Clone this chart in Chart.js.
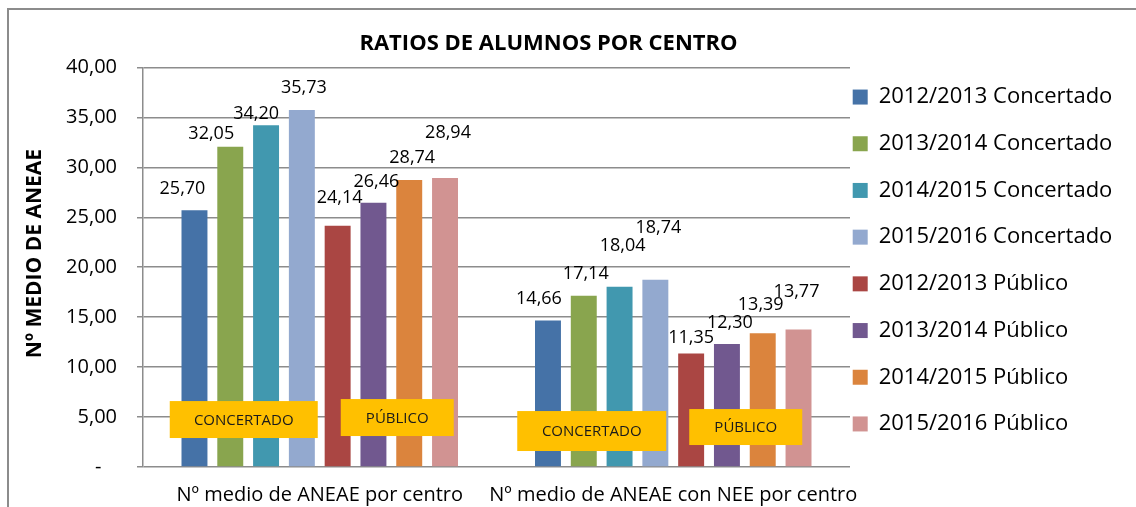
<!DOCTYPE html>
<html>
<head>
<meta charset="utf-8">
<script src="https://cdn.jsdelivr.net/npm/chart.js@4.4.1/dist/chart.umd.min.js"></script>
<style>
  html, body { margin: 0; padding: 0; background: #fff; }
  #wrap { width: 1136px; height: 507px; position: relative; }
</style>
</head>
<body>
<div id="wrap"><canvas id="ratiosChart" width="1136" height="507"></canvas></div>
<script>
const categories = ['Nº medio de ANEAE por centro', 'Nº medio de ANEAE con NEE por centro'];

const seriesNames = [
    '2012/2013 Concertado', '2013/2014 Concertado', '2014/2015 Concertado', '2015/2016 Concertado',
    '2012/2013 Público', '2013/2014 Público', '2014/2015 Público', '2015/2016 Público'
];

// one array per series: [por centro, con NEE por centro]
const concertado1213 = [25.70, 14.66];
const concertado1314 = [32.05, 17.14];
const concertado1415 = [34.20, 18.04];
const concertado1516 = [35.73, 18.74];
const publico1213 = [24.14, 11.35];
const publico1314 = [26.46, 12.30];
const publico1415 = [28.74, 13.39];
const publico1516 = [28.94, 13.77];

const seriesValues = [
    concertado1213, concertado1314, concertado1415, concertado1516,
    publico1213, publico1314, publico1415, publico1516
];

const yTicks = [0, 5, 10, 15, 20, 25, 30, 35, 40];

const colors = ['#4572A7', '#89A54E', '#4198AF', '#93A9CF', '#AA4643', '#71588F', '#DB843D', '#D19392'];

// manual label placement from the original (px from top centre of each bar)
const labelNudge = [
    [[-12, -21], [-9, -22]],
    [[-19, -13], [2, -22]],
    [[-10, -11], [3, -41]],
    [[2, -22], [3, -52]],
    [[2, -28], [0, -16]],
    [[3, -21], [3, -21]],
    [[3, -22], [-2, -28]],
    [[3, -45], [-2, -38]]
];

// yellow tags: px from category centre, y in axis units
const tags = [
    { cat: 0, text: 'CONCERTADO', x0: -150, x1: -2, yTop: 6.6, yBottom: 2.9 },
    { cat: 0, text: 'PÚBLICO', x0: 21, x1: 134, yTop: 6.8, yBottom: 3.1 },
    { cat: 1, text: 'CONCERTADO', x0: -156, x1: -7, yTop: 5.6, yBottom: 1.6 },
    { cat: 1, text: 'PÚBLICO', x0: 16, x1: 129, yTop: 5.8, yBottom: 2.2 }
];

const FONT = "'Open Sans', 'DejaVu Sans', sans-serif";
const GRID = '#8c8c8c';

function fmt(v) {
    return v.toFixed(2).replace('.', ',');
}

const framePlugin = {
    id: 'frame',
    beforeDraw(chart) {
        const ctx = chart.ctx;
        ctx.save();
        ctx.strokeStyle = GRID;
        ctx.lineWidth = 2;
        ctx.strokeRect(8, 9, 1300, 600);
        ctx.restore();
    }
};

// legend sits a bit further left/lower than Chart.js puts it; widen its clip box too
const legendShift = {
    id: 'legendShift',
    afterLayout(chart) {
        const lg = chart.legend;
        if (!lg) return;
        lg.left -= 22;
        lg.right = chart.width;
        lg.top += 2;
        lg.bottom += 2;
    }
};

const tagsAndLabels = {
    id: 'tagsAndLabels',
    afterDatasetsDraw(chart) {
        const ctx = chart.ctx;
        const x = chart.scales.x;
        const y = chart.scales.y;
        ctx.save();

        tags.forEach(t => {
            const cx = x.getPixelForValue(t.cat);
            const top = y.getPixelForValue(t.yTop);
            const bottom = y.getPixelForValue(t.yBottom);
            ctx.fillStyle = '#FFC000';
            ctx.fillRect(cx + t.x0, top, t.x1 - t.x0, bottom - top);
            ctx.fillStyle = '#1a1a1a';
            ctx.font = '15px ' + FONT;
            ctx.textAlign = 'center';
            ctx.textBaseline = 'middle';
            ctx.fillText(t.text, cx + (t.x0 + t.x1) / 2, (top + bottom) / 2 + 1);
        });

        ctx.fillStyle = '#000';
        ctx.font = '18px ' + FONT;
        ctx.textAlign = 'center';
        ctx.textBaseline = 'middle';
        chart.data.datasets.forEach((ds, i) => {
            const meta = chart.getDatasetMeta(i);
            meta.data.forEach((bar, j) => {
                const n = labelNudge[i][j];
                ctx.fillText(fmt(ds.data[j]), bar.x + n[0], bar.y + n[1]);
            });
        });
        ctx.restore();
    }
};

new Chart(document.getElementById('ratiosChart'), {
    type: 'bar',
    data: {
        labels: categories,
        datasets: seriesNames.map((name, i) => ({
            label: name,
            data: seriesValues[i],
            backgroundColor: colors[i],
            borderWidth: 0,
            categoryPercentage: 0.81,
            barPercentage: 0.725
        }))
    },
    options: {
        responsive: false,
        animation: false,
        layout: { padding: { left: 10, top: 10, right: 49, bottom: 0 } },
        scales: {
            x: {
                grid: { display: false, drawTicks: false },
                border: { display: false },
                ticks: {
                    color: '#000',
                    font: { family: FONT, size: 20 },
                    padding: 16,
                    maxRotation: 0,
                    minRotation: 0,
                    autoSkip: false
                },
                afterFit(scale) { scale.height = 40; }
            },
            y: {
                min: 0,
                max: 40,
                afterBuildTicks(scale) {
                    scale.ticks = yTicks.map(v => ({ value: v }));
                },
                grid: { color: GRID, lineWidth: 1.5, tickLength: 6, tickColor: GRID },
                border: { display: true, color: GRID, width: 1.5 },
                ticks: {
                    color: '#000',
                    font: { family: FONT, size: 20 },
                    padding: 20,
                    callback: v => v === 0 ? '-   ' : fmt(v)
                },
                title: {
                    display: true,
                    // leading spaces lift the centred text to where Excel had it
                    text: '\u00a0\u00a0\u00a0\u00a0\u00a0Nº MEDIO DE ANEAE',
                    color: '#000',
                    font: { family: FONT, size: 21, weight: 'bold' },
                    padding: { top: 12, bottom: 0 }
                },
                afterFit(scale) { scale.width = 133; }
            }
        },
        plugins: {
            title: {
                display: true,
                text: 'RATIOS DE ALUMNOS POR CENTRO',
                color: '#000',
                font: { family: FONT, size: 22, weight: 'bold' },
                padding: { top: 21, bottom: 10 }
            },
            legend: {
                position: 'right',
                maxWidth: 237,
                labels: {
                    color: '#000',
                    font: { family: FONT, size: 22 },
                    boxWidth: 15,
                    boxHeight: 15,
                    padding: 24.7
                }
            },
            tooltip: { enabled: false }
        }
    },
    plugins: [framePlugin, legendShift, tagsAndLabels]
});
</script>
</body>
</html>
